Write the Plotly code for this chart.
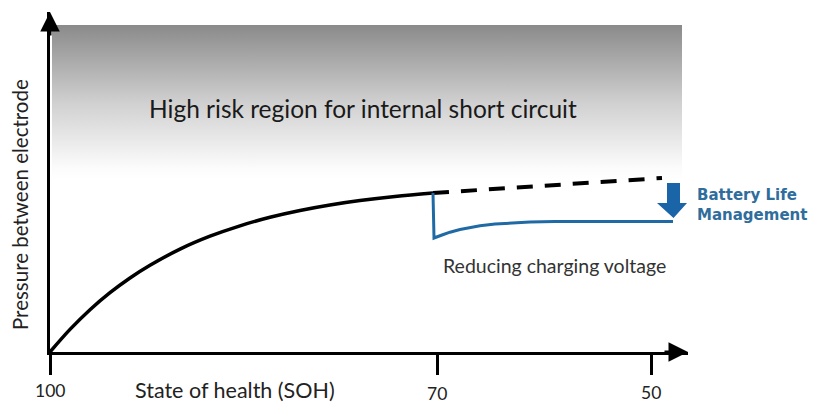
import plotly.graph_objects as go

# Data (x = position along SOH axis, y = pressure, arbitrary units)
soh_pos_curve = [0, 20, 40, 60, 80, 100, 130, 160, 190, 220, 250, 280, 310, 345, 383]
pressure_curve = [0, 22.6, 42.3, 59.3, 74.0, 86.7, 102.9, 115.8, 126.2, 134.7, 141.5, 147.0, 151.4, 155.5, 159.0]

soh_pos_dashed = [383, 612]
pressure_dashed = [159, 174]

soh_pos_managed = [383, 384, 392, 400, 410, 420, 430, 445, 460, 480, 505, 540, 623]
pressure_managed = [159, 114, 117, 119.8, 122.5, 124.6, 126.2, 127.9, 129, 129.9, 130.4, 130.6, 130.6]

risk_x = [2, 632, 632, 2, 2]
risk_y = [172, 172, 327, 327, 172]

tick_vals = [0, 387, 601]
tick_text = ["100", "70", "50"]
tick_label_y = [-38, -41, -40]

X_MAX, Y_MAX = 638, 340

fig = go.Figure()

fig.add_trace(go.Scatter(
    x=risk_x, y=risk_y, mode="lines", line=dict(width=0), fill="toself",
    fillgradient=dict(type="vertical",
                      colorscale=[[0, "#ffffff"], [0.08, "#fbfbfb"], [0.5, "#d0d0d0"], [1, "#8a8a8a"]]),
    hoverinfo="skip", showlegend=False))

fig.add_trace(go.Scatter(x=soh_pos_curve, y=pressure_curve, mode="lines",
                         line=dict(color="black", width=3.5, shape="spline"), showlegend=False))
fig.add_trace(go.Scatter(x=soh_pos_dashed, y=pressure_dashed, mode="lines",
                         line=dict(color="black", width=4, dash="16px,12px"), showlegend=False))
fig.add_trace(go.Scatter(x=soh_pos_managed, y=pressure_managed, mode="lines",
                         line=dict(color="#1f6aa5", width=3), showlegend=False))

fig.update_xaxes(range=[0, X_MAX], showline=True, linecolor="black", linewidth=3,
                 showgrid=False, zeroline=False, ticks="outside", ticklen=20, tickwidth=3,
                 tickcolor="black", tickvals=tick_vals, showticklabels=False, automargin=False)
fig.update_yaxes(range=[0, Y_MAX], showline=True, linecolor="black", linewidth=3,
                 showgrid=False, zeroline=False, showticklabels=False, ticks="", automargin=False)

# blue arrow
fig.add_shape(type="path", xref="x", yref="y",
              path="M 617 169 L 630 169 L 630 149 L 637 149 L 623.5 134 L 607 149 L 617 149 Z",
              fillcolor="#1a64a8", line=dict(width=0))


def px(v):
    return v / X_MAX


def py(v):
    return v / Y_MAX


def label(x, y, text, size, color="#222", **kw):
    d = dict(x=px(x), y=py(y), xref="paper", yref="paper", text=text, showarrow=False,
             xanchor="center", yanchor="middle", font=dict(family="Lato", size=size, color=color))
    d.update(kw)
    return d


ann = []
# axis arrowheads
ann.append(dict(x=1, y=0, xref="paper", yref="paper", ax=-25, ay=0,
                showarrow=True, arrowhead=2, arrowsize=1.3, arrowwidth=3, arrowcolor="black", text=""))
ann.append(dict(x=0, y=1, xref="paper", yref="paper", ax=0, ay=25, showarrow=True, arrowhead=2,
                arrowsize=1.3, arrowwidth=3, arrowcolor="black", text=""))
for tv, tt, ty in zip(tick_vals, tick_text, tick_label_y):
    ann.append(label(tv, ty, tt, 17.5))
ann.append(label(185, -38, "State of health (SOH)", 21.5))
ann.append(label(-30, 147, "Pressure between electrode", 20.5, textangle=-90))
ann.append(label(313, 244, "High risk region for internal short circuit", 24.5, color="#1a1a1a"))
ann.append(label(504, 87, "Reducing charging voltage", 19.5, color="#333"))
ann.append(dict(x=px(645), y=py(147.5), xref="paper", yref="paper",
                text="<b>Battery Life<br>Management</b>",
                xanchor="left", yanchor="middle", align="left", showarrow=False,
                font=dict(family="DejaVu Sans", size=15, color="#2f6d9c")))

# page body has an 8px default offset; compensate in the margins
fig.update_layout(width=820, height=403, margin=dict(l=42, r=140, t=4, b=59),
                  plot_bgcolor="white", paper_bgcolor="white", annotations=ann)

fig.write_html("out.html")
